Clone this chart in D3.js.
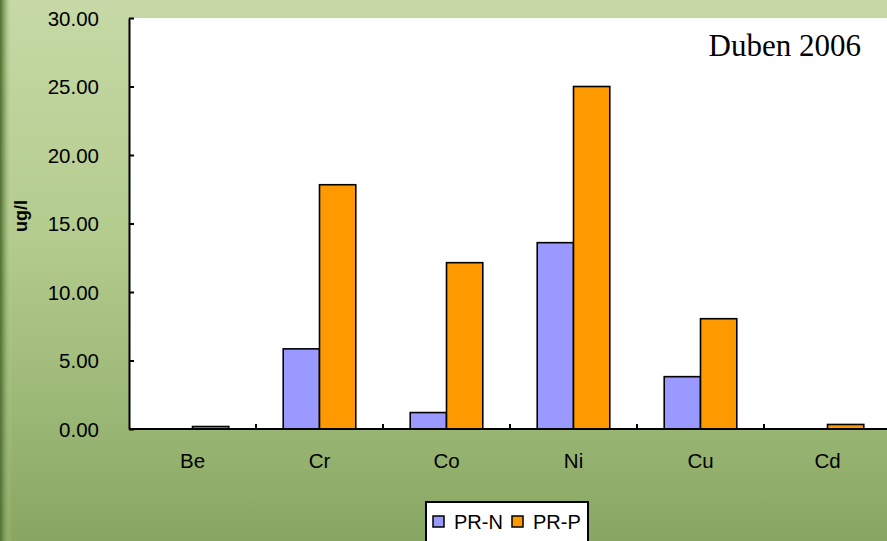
<!DOCTYPE html>
<html>
<head>
<meta charset="utf-8">
<script src="https://cdn.jsdelivr.net/npm/d3@7"></script>
<style>
  html, body { margin: 0; padding: 0; overflow: hidden; }
  svg { display: block; }
</style>
</head>
<body>
<svg id="chart" width="887" height="541"></svg>
<script>
// Metal concentrations (ug/l), April 2006
const categories = ["Be", "Cr", "Co", "Ni", "Cu", "Cd"];
const seriesNames = ["PR-N", "PR-P"];
const prN = [0, 5.85, 1.2, 13.6, 3.82, 0];
const prP = [0.18, 17.83, 12.14, 25.0, 8.05, 0.33];
const yTicks = [0, 5, 10, 15, 20, 25, 30];
const seriesColors = ["#9999ff", "#ff9900"];
const chartLabel = "Duben 2006";
const yTitle = "ug/l";

const rows = categories.map((c, i) => ({ cat: c, values: [prN[i], prP[i]] }));

const svg = d3.select("#chart");
const W = 887, H = 541;
const plot = { left: 129, top: 18, bottom: 429, step: 127 };

// Background gradient
const defs = svg.append("defs");
const bg = defs.append("linearGradient").attr("id", "bg").attr("x1", 0).attr("y1", 0).attr("x2", 0).attr("y2", 1);
bg.append("stop").attr("offset", "0%").attr("stop-color", "#c6d9a6");
bg.append("stop").attr("offset", "45%").attr("stop-color", "#b3cb8d");
bg.append("stop").attr("offset", "75%").attr("stop-color", "#9cb877");
bg.append("stop").attr("offset", "100%").attr("stop-color", "#88a661");
svg.append("rect").attr("width", W).attr("height", H).attr("fill", "url(#bg)");

const edge = defs.append("linearGradient").attr("id", "edge").attr("x1", 0).attr("y1", 0).attr("x2", 1).attr("y2", 0);
edge.append("stop").attr("offset", "0%").attr("stop-color", "#4f6e33").attr("stop-opacity", 1);
edge.append("stop").attr("offset", "30%").attr("stop-color", "#6f8f4c").attr("stop-opacity", 0.8);
edge.append("stop").attr("offset", "100%").attr("stop-color", "#c6d9a6").attr("stop-opacity", 0);
svg.append("rect").attr("x", 0).attr("y", 0).attr("width", 12).attr("height", H).attr("fill", "url(#edge)");

// Scales
const x0 = d3.scaleBand()
  .domain(categories)
  .range([plot.left, plot.left + plot.step * categories.length])
  .paddingInner(0).paddingOuter(0);
const x1 = d3.scaleBand()
  .domain(seriesNames)
  .range([0, x0.bandwidth()])
  .paddingInner(0).paddingOuter(0.75);
const y = d3.scaleLinear().domain([0, 30]).range([plot.bottom, plot.top]);

// Plot area
svg.append("rect")
  .attr("x", plot.left).attr("y", plot.top)
  .attr("width", W - plot.left).attr("height", plot.bottom - plot.top)
  .attr("fill", "#ffffff");

// Bars
const groups = svg.append("g").selectAll("g")
  .data(rows).join("g")
  .attr("transform", d => `translate(${x0(d.cat)},0)`);
groups.selectAll("rect")
  .data(d => d.values.map((v, i) => ({ key: seriesNames[i], v, i })))
  .join("rect")
  .filter(d => d.v > 0)
  .attr("x", d => x1(d.key))
  .attr("y", d => y(d.v))
  .attr("width", x1.bandwidth())
  .attr("height", d => y(0) - y(d.v))
  .attr("fill", d => seriesColors[d.i])
  .attr("stroke", "#000")
  .attr("stroke-width", 1.6);

// Y axis (ticks point inward)
const yAxis = svg.append("g")
  .attr("transform", `translate(${plot.left},0)`)
  .call(d3.axisLeft(y).tickValues(yTicks).tickSizeInner(-5).tickSizeOuter(0).tickFormat(d3.format(".2f")));
yAxis.select(".domain").attr("stroke", "#000").attr("stroke-width", 2);
yAxis.selectAll(".tick line").attr("stroke", "#000").attr("stroke-width", 2);
yAxis.selectAll(".tick text")
  .attr("x", -30).attr("dy", "0.36em")
  .attr("font-family", "Liberation Sans, Arial, sans-serif")
  .attr("font-size", 20.5).attr("fill", "#000");

// X axis
const xAxis = svg.append("g")
  .attr("transform", `translate(0,${plot.bottom})`)
  .call(d3.axisBottom(x0).tickSize(0).tickSizeOuter(0));
xAxis.select(".domain").attr("stroke", "#000").attr("stroke-width", 2)
  .attr("d", `M${plot.left},0H${W}`);
xAxis.selectAll(".tick text")
  .attr("y", 0).attr("dy", 39)
  .attr("font-family", "Liberation Sans, Arial, sans-serif")
  .attr("font-size", 20.5).attr("fill", "#000");
// category separator ticks
xAxis.selectAll(".sep")
  .data(categories.slice(1))
  .join("line")
  .attr("x1", d => x0(d)).attr("x2", d => x0(d))
  .attr("y1", 0).attr("y2", -5)
  .attr("stroke", "#000").attr("stroke-width", 2);

// Y title
svg.append("text")
  .attr("transform", "translate(27,216) rotate(-90)")
  .attr("text-anchor", "middle")
  .attr("font-family", "Liberation Sans, Arial, sans-serif")
  .attr("font-weight", "bold").attr("font-size", 18)
  .text(yTitle);

// Label in plot area
svg.append("text")
  .attr("x", 861).attr("y", 56)
  .attr("text-anchor", "end")
  .attr("font-family", "Liberation Serif, Times New Roman, serif")
  .attr("font-size", 31)
  .text(chartLabel);

// Legend
const lg = svg.append("g");
lg.append("rect").attr("x", 426).attr("y", 502).attr("width", 162).attr("height", 50)
  .attr("fill", "#fff").attr("stroke", "#000").attr("stroke-width", 2);
const legendX = [433, 512];
seriesNames.forEach((s, i) => {
  lg.append("rect").attr("x", legendX[i]).attr("y", 516).attr("width", 11).attr("height", 11)
    .attr("fill", seriesColors[i]).attr("stroke", "#000").attr("stroke-width", 1.5);
  lg.append("text").attr("x", legendX[i] + 21).attr("y", 529)
    .attr("font-family", "Liberation Sans, Arial, sans-serif")
    .attr("font-size", 20).text(s);
});
</script>
</body>
</html>
